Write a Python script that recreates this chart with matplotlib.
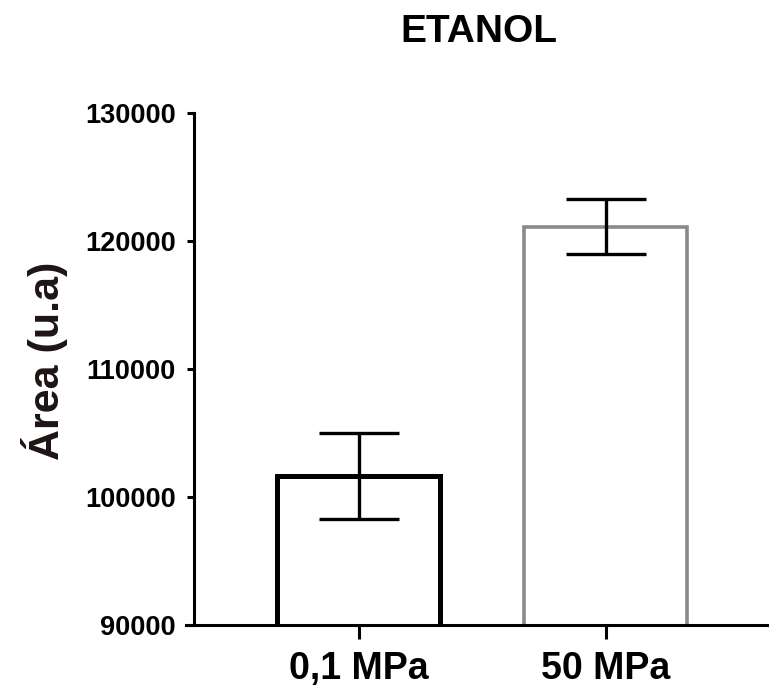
import matplotlib
matplotlib.use("Agg")
import matplotlib.pyplot as plt

categories = ["0,1 MPa", "50 MPa"]
means = [101650, 121100]
errors = [3350, 2150]
yticks = [90000, 100000, 110000, 120000, 130000]
title = "ETANOL"
ylabel = "Área (u.a)"

W, H = 776, 696
fig = plt.figure(figsize=(W / 100, H / 100), dpi=100)
ax = fig.add_axes([186 / W, 1 - 625 / H, 581 / W, 512 / H])

fam = ["Liberation Sans", "DejaVu Sans"]

for s in ["top", "right"]:
    ax.spines[s].set_visible(False)
for s in ["left", "bottom"]:
    ax.spines[s].set_linewidth(2.2)
ax.spines["left"].set_position(("axes", 8 / 581))

x = [0, 1]
edgecolors = ["#000000", "#8a8a8a"]
lws = [3.6, 2.6]
for xi, m, e, ec, lw in zip(x, means, errors, edgecolors, lws):
    ax.bar(xi, m, width=0.66, facecolor="white", edgecolor=ec, linewidth=lw,
           zorder=2)
    ax.errorbar(xi, m, yerr=e, ecolor="black", elinewidth=2.4, capsize=29,
                capthick=2.4, fmt="none", zorder=3)

ax.set_xlim(-0.7004, 1.652)
ax.set_ylim(90000, 130000)
ax.set_yticks(yticks)
ax.set_yticklabels([str(v) for v in yticks], family=fam, fontweight="bold",
                   fontsize=19.5)
ax.set_xticks(x)
ax.set_xticklabels(categories, family=fam, fontweight="bold", fontsize=27)

ax.tick_params(axis="y", length=5, width=2.2, pad=8)
ax.tick_params(axis="x", length=10, width=2.2, pad=9)

fig.text(479 / W, 1 - 32 / H, title, family=fam, fontweight="bold",
         fontsize=28, ha="center", va="center")
fig.text(45 / W, 1 - 361 / H, ylabel, family=fam, fontweight="bold",
         fontsize=31, rotation=90, ha="center", va="center", color="#1e1414")

fig.savefig("out.png", dpi=100)
